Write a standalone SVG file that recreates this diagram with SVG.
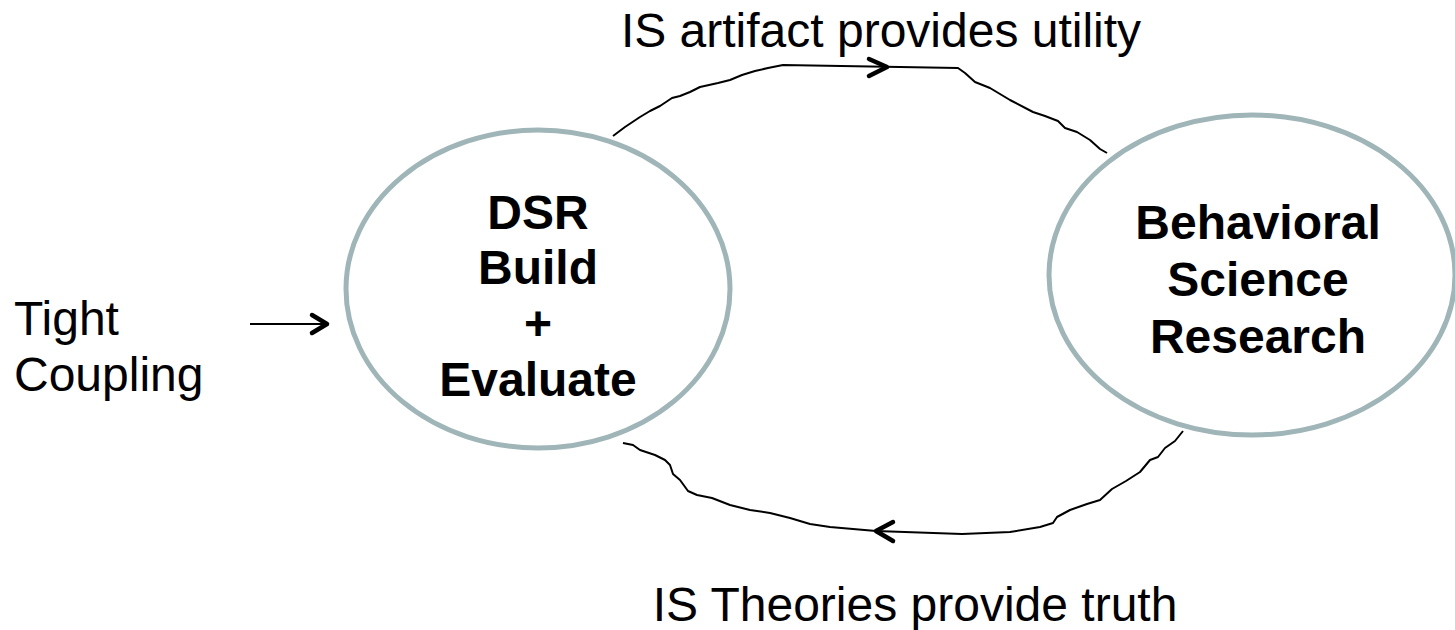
<svg xmlns="http://www.w3.org/2000/svg" width="1455" height="630" viewBox="0 0 1455 630">
  <style>
    .label { font-family: "Liberation Sans", Arial, sans-serif; font-size: 48px; fill: #000; }
    .node-title { font-family: "Liberation Sans", Arial, sans-serif; font-size: 48px; font-weight: bold; fill: #000; text-anchor: middle; }
    .bubble { fill: #fff; stroke: #9fb5b8; stroke-width: 5; }
    .wire { fill: none; stroke: #000; stroke-width: 2; stroke-linejoin: round; }
    .head { fill: none; stroke: #000; stroke-width: 4.5; stroke-linecap: round; stroke-linejoin: round; }
  </style>

  <rect width="1455" height="630" fill="#fff"/>

  <!-- research activities -->
  <g id="dsr">
    <ellipse class="bubble" cx="538" cy="289" rx="192" ry="159"/>
    <text class="node-title" x="538" y="229">DSR</text>
    <text class="node-title" x="538" y="284">Build</text>
    <text class="node-title" x="538" y="340">+</text>
    <text class="node-title" x="538" y="396">Evaluate</text>
  </g>

  <g id="behavioral">
    <ellipse class="bubble" cx="1252" cy="275" rx="203" ry="160"/>
    <text class="node-title" x="1258" y="239">Behavioral</text>
    <text class="node-title" x="1258" y="296">Science</text>
    <text class="node-title" x="1258" y="353">Research</text>
  </g>

  <g id="tight-coupling">
    <text class="label" x="14" y="335">Tight</text>
    <text class="label" x="14" y="391">Coupling</text>
  </g>

  <!-- hand-drawn connectors -->
  <g id="connectors">
    <!-- utility flow: DSR to behavioral research -->
    <path class="wire" d="M613,136 L625,127 L640,117 L650,111 L660,106 L672,98 L680,96 L690,92 L700,87 L718,83 L730,80 L742,75 L755,71 L768,68 L783,65 L958,68 L965,73 L975,82 L990,88 L1010,100 L1033,112 L1045,116 L1058,121 L1065,128 L1077,132 L1090,140 L1100,149 L1107,153"/>
    <path class="head" d="M869,59 L887,67 L869,76"/>

    <!-- truth flow: behavioral research back to DSR -->
    <path class="wire" d="M1183,431 L1175,441 L1165,448 L1158,457 L1150,460 L1140,472 L1126,481 L1112,489 L1100,500 L1087,504 L1070,510 L1057,517 L1053,523 L1040,527 L1010,532 L962,534 L876,531 L830,527 L810,524 L790,518 L770,513 L750,510 L730,505 L712,498 L697,495 L688,491 L680,480 L673,474 L670,465 L665,460 L655,455 L640,450 L633,445 L623,443"/>
    <path class="head" d="M893,522 L876,531 L893,541"/>

    <!-- coupling arrow into DSR -->
    <path class="wire" d="M250,324 L327,324"/>
    <path class="head" d="M312,315 L327,324 L312,333"/>
  </g>

  <text class="label" x="881" y="47" text-anchor="middle">IS artifact provides utility</text>
  <text class="label" x="915" y="621" text-anchor="middle">IS Theories provide truth</text>
</svg>
